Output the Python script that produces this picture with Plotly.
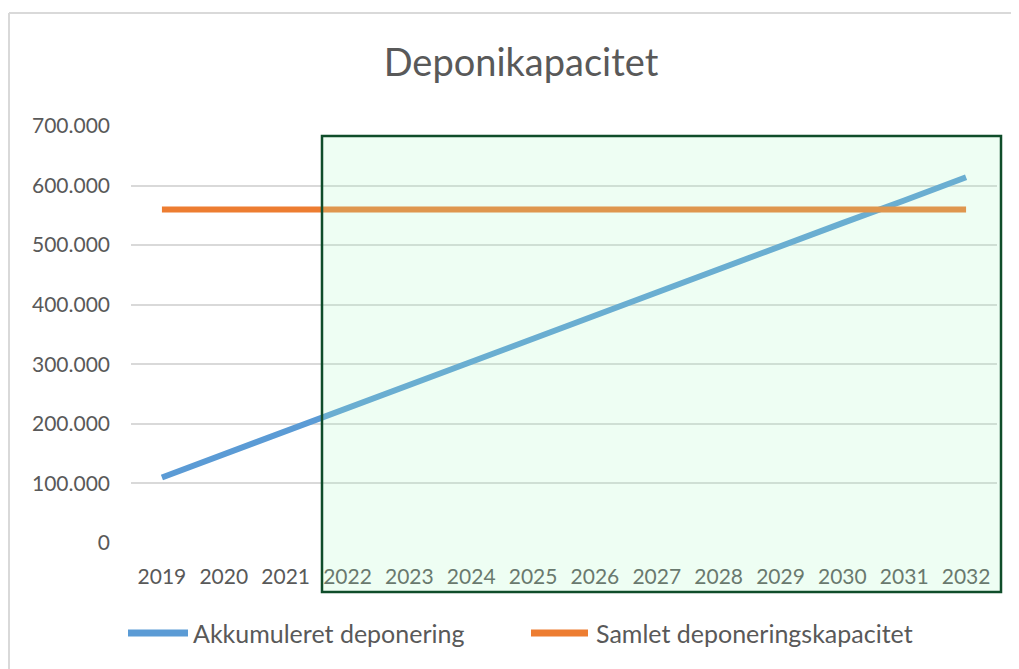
import plotly.graph_objects as go

years = ["2019", "2020", "2021", "2022", "2023", "2024", "2025", "2026",
         "2027", "2028", "2029", "2030", "2031", "2032"]
akkumuleret = [110000, 149000, 188000, 227000, 265000, 304000, 343000, 382000,
               420000, 459000, 498000, 537000, 575000, 614000]
kapacitet = [560000] * 14
y_ticks = [0, 100000, 200000, 300000, 400000, 500000, 600000, 700000]

name_blue = "Akkumuleret deponering"
name_orange = "Samlet deponeringskapacitet"
blue = "#5B9BD5"
orange = "#ED7D31"
txt = "#595959"
FONT = "Lato"

fig = go.Figure()
fig.add_trace(go.Scatter(x=years, y=akkumuleret, mode="lines", name=name_blue,
                         line=dict(color=blue, width=6), showlegend=False))
fig.add_trace(go.Scatter(x=years, y=kapacitet, mode="lines", name=name_orange,
                         line=dict(color=orange, width=6), showlegend=False))

OFF = 8  # page body margin
W, H = 1019 - OFF, 669 - OFF
# plot area in reference (screen) pixels
SL, SR, ST, SB = 131, 997, 126, 543
L, T = SL - OFF, ST - OFF
R = W - (SR - OFF)
B = H - (SB - OFF)
pw, ph = SR - SL, SB - ST


def px(x):
    return (x - SL) / pw


def py(y):
    return (SB - y) / ph


shapes = [
    # outer chart border (top and left edges visible)
    dict(type="line", xref="paper", yref="paper", x0=px(9), x1=px(1019),
         y0=py(13), y1=py(13), line=dict(color="#D9D9D9", width=2), layer="below"),
    dict(type="line", xref="paper", yref="paper", x0=px(9), x1=px(9),
         y0=py(13), y1=py(669), line=dict(color="#D9D9D9", width=2), layer="below"),
    # highlighted green box
    dict(type="rect", xref="paper", yref="paper", x0=px(322), x1=px(1001),
         y0=py(592), y1=py(136), line=dict(color="#0F4D2A", width=2.5),
         fillcolor="rgba(170,250,195,0.2)", layer="above"),
    # legend samples
    dict(type="line", xref="paper", yref="paper", x0=px(128), x1=px(188),
         y0=py(633), y1=py(633), line=dict(color=blue, width=7)),
    dict(type="line", xref="paper", yref="paper", x0=px(531), x1=px(588),
         y0=py(633), y1=py(633), line=dict(color=orange, width=7)),
]

annotations = [
    dict(text=name_blue, xref="paper", yref="paper", x=px(191), y=py(633),
         xanchor="left", yanchor="middle", showarrow=False,
         font=dict(family=FONT, size=25, color=txt)),
    dict(text=name_orange, xref="paper", yref="paper", x=px(594), y=py(633),
         xanchor="left", yanchor="middle", showarrow=False,
         font=dict(family=FONT, size=25, color=txt)),
]

fig.update_layout(
    width=W, height=H,
    margin=dict(l=L, r=R, t=T, b=B),
    paper_bgcolor="white", plot_bgcolor="white",
    separators=",.",
    font=dict(family=FONT, color=txt),
    title=dict(text="Deponikapacitet", x=(521 - OFF) / W, xref="container",
               xanchor="center", y=1 - (63 - OFF) / H, yref="container",
               yanchor="middle", font=dict(family=FONT, size=38, color=txt)),
    showlegend=False,
    shapes=shapes,
    annotations=annotations,
)
fig.update_xaxes(type="category", range=[-0.5, 13.5], showgrid=False, showline=False,
                 zeroline=False, ticks="", tickfont=dict(family=FONT, size=21, color=txt),
                 ticklabelstandoff=19)
fig.update_yaxes(range=[0, 700000], tickvals=y_ticks, tickformat=",d",
                 showgrid=True, gridcolor="#D9D9D9", gridwidth=2, zeroline=False,
                 showline=False, ticks="", tickfont=dict(family=FONT, size=21, color=txt),
                 ticklabelstandoff=20)

fig.write_html("out.html")
